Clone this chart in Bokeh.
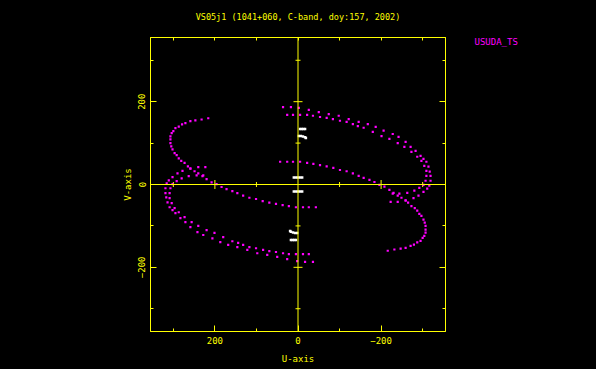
import numpy as np
from bokeh.plotting import figure
from bokeh.models import Range1d, LinearAxis, FixedTicker, Span
from bokeh.embed import file_html
from bokeh.resources import INLINE

TITLE = "VS05j1 (1041+060, C-band, doy:157, 2002)"
REF_ANT = "USUDA_TS"
X_LABEL = "U-axis"
Y_LABEL = "V-axis"
MAJOR_TICKS = [-200, 0, 200]
MINOR_TICKS = [-300, -100, 100, 300]

# baseline A (one half; conjugate added below)
track_a_u = [216, 232, 247, 259, 271, 279, 287, 295, 300, 304, 307, 307, 307, 305, 302, 297,
             292, 287, 281, 273, 265, 259, 249, 240, 230, 220, 208, 196, 184, 172, 158, 146,
             132, 117, 101, 85, 69, 53, 37, 22, 5, -12, -26, -43]
track_a_v = [160, 157, 155, 153, 148, 145, 140, 136, 129, 124, 116, 109, 100, 92, 85, 76,
             71, 63, 57, 52, 44, 39, 32, 27, 20, 13, 5, 1, -6, -11, -16, -21,
             -27, -32, -35, -40, -44, -47, -50, -52, -55, -55, -55, -55]

# baseline B (outer) and B2 (inner, parallel)
track_b_u = [223, 240, 259, 278, 290, 302, 311, 316, 319, 319, 317, 314, 309, 302, 295, 283,
             271, 259, 242, 228, 206, 187, 168, 146, 122, 98, 74, 50, 26, 2, -17, -36]
track_b_v = [42, 42, 38, 33, 27, 18, 10, 3, -9, -21, -31, -43, -55, -62, -69, -81,
             -91, -103, -115, -122, -130, -139, -146, -151, -158, -166, -170, -175, -180, -185, -187, -187]
track_b2_u = [228, 244, 263, 280, 292, 302, 307, 309, 309, 304, 297, 287, 273, 256, 240, 220,
              201, 180, 158, 144, 132, 117, 101, 84, 69, 53, 36, 22, 5, -12, -26]
track_b2_v = [22, 22, 20, 15, 8, 1, -9, -21, -33, -45, -57, -67, -79, -91, -100, -110,
              -117, -127, -137, -141, -146, -151, -154, -158, -161, -163, -166, -168, -168, -168, -168]

# short baselines (white)
short_u = [-5, -9, -13, -17, -2, -7, -12, -17, -19, 10, 5, 0, -5, -10]
short_v = [134, 134, 134, 134, 117, 117, 116, 114, 112, 17, 17, 17, 17, 17]

YELLOW = "#ffff00"
MAGENTA = "#ff00ff"
FONT = "DejaVu Sans Mono"
ANT_LABEL_LEVEL = 343  # vertical placement of the antenna name (style)

p = figure(width=596, height=369, x_range=Range1d(355, -355), y_range=Range1d(-355, 355),
           output_backend="svg", toolbar_location=None,
           min_border_left=150, min_border_right=151, min_border_top=37, min_border_bottom=38)
p.background_fill_color = "black"
p.border_fill_color = "black"
p.outline_line_color = YELLOW
p.grid.visible = False

def style(ax, labels=True):
    ax.ticker = FixedTicker(ticks=MAJOR_TICKS, minor_ticks=MINOR_TICKS)
    ax.axis_line_color = YELLOW
    ax.major_tick_line_color = YELLOW
    ax.minor_tick_line_color = YELLOW
    ax.major_tick_in = 6
    ax.major_tick_out = 0
    ax.minor_tick_in = 3
    ax.minor_tick_out = 0
    ax.major_label_text_color = YELLOW
    ax.major_label_text_font = FONT
    ax.major_label_text_font_size = "9px"
    ax.axis_label_text_color = YELLOW
    ax.axis_label_text_font = FONT
    ax.axis_label_text_font_size = "9px"
    ax.axis_label_text_font_style = "normal"
    if not labels:
        ax.major_label_overrides = {t: "" for t in MAJOR_TICKS}
        ax.major_label_standoff = 0

style(p.xaxis[0])
style(p.yaxis[0])
p.xaxis[0].axis_label = X_LABEL
p.yaxis[0].axis_label = Y_LABEL
p.xaxis[0].major_label_standoff = 5
p.yaxis[0].major_label_standoff = 5
p.xaxis[0].axis_label_standoff = 7
p.yaxis[0].axis_label_standoff = 3
p.yaxis[0].major_label_orientation = "vertical"

# top frame: ticks only, the plot title sits as this axis' label
top = LinearAxis()
style(top, labels=False)
top.ticker = FixedTicker(ticks=[], minor_ticks=sorted(MAJOR_TICKS + MINOR_TICKS))
top.minor_tick_in = 3
top.axis_label = TITLE
top.axis_label_text_font_size = "8.5px"
top.axis_label_standoff = 16
p.add_layout(top, "above")

right = LinearAxis()
style(right, labels=False)
p.add_layout(right, "right")

# reference antenna name, right of the frame (as a single tick label)
ant = LinearAxis(ticker=FixedTicker(ticks=[ANT_LABEL_LEVEL], minor_ticks=[]),
                 axis_line_color=None, major_tick_line_color=None, minor_tick_line_color=None,
                 major_tick_in=0, major_tick_out=0,
                 major_label_overrides={ANT_LABEL_LEVEL: REF_ANT}, major_label_standoff=29,
                 major_label_text_color=MAGENTA, major_label_text_font=FONT,
                 major_label_text_font_size="9px")
p.add_layout(ant, "right")

# central axes through the origin
p.add_layout(Span(location=0, dimension="height", line_color=YELLOW, line_width=1))
p.add_layout(Span(location=0, dimension="width", line_color=YELLOW, line_width=1))
maj = [t for t in MAJOR_TICKS if t != 0]
p.scatter(maj, [0] * len(maj), marker="dash", angle=np.pi / 2, size=9, line_color=YELLOW)
p.scatter(MINOR_TICKS, [0] * len(MINOR_TICKS), marker="dash", angle=np.pi / 2, size=5, line_color=YELLOW)
p.scatter([0] * len(maj), maj, marker="dash", size=9, line_color=YELLOW)
p.scatter([0] * len(MINOR_TICKS), MINOR_TICKS, marker="dash", size=5, line_color=YELLOW)

def conj(u, v):
    u = np.asarray(u, float); v = np.asarray(v, float)
    return np.concatenate([u, -u]), np.concatenate([v, -v])

for tu, tv in [(track_a_u, track_a_v), (track_b_u, track_b_v), (track_b2_u, track_b2_v)]:
    uu, vv = conj(tu, tv)
    p.scatter(uu, vv, marker="square", size=2.2, fill_color=MAGENTA, line_color=None)

su, sv = conj(short_u, short_v)
p.scatter(su, sv, marker="square", size=2.5, fill_color="white", line_color=None)

from bokeh.core.templates import get_env
TEMPLATE = get_env().from_string('{% extends "file.html" %}{% block preamble %}<style>html,body{background:#000;}</style>{% endblock %}')

open("out.html", "w").write(file_html(p, INLINE, template=TEMPLATE))
